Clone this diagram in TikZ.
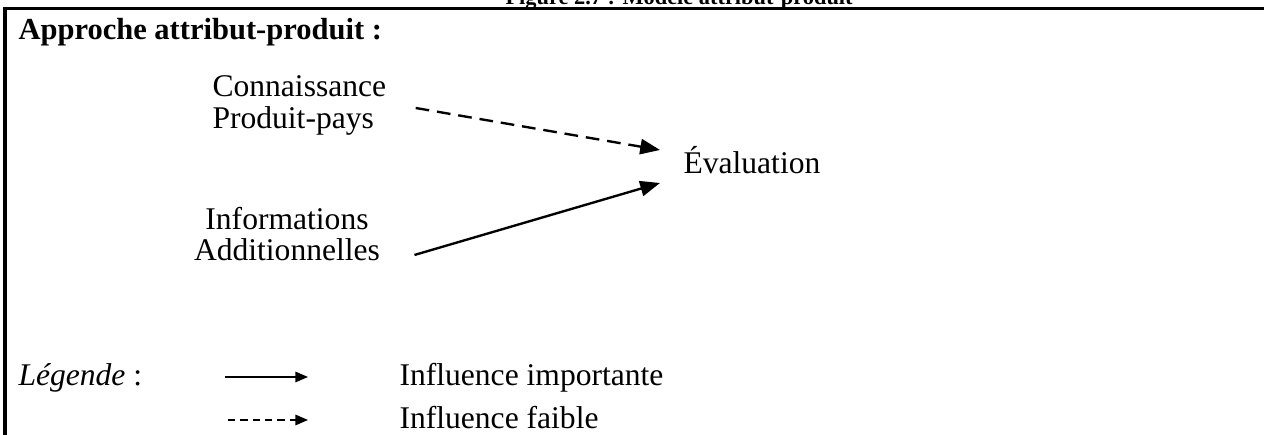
\documentclass[tikz,border=0pt]{standalone}
\usepackage{fontspec}
\setmainfont{Liberation Serif}
\usetikzlibrary{arrows.meta}

\begin{document}
\begin{tikzpicture}[
  x=0.38pt,
  y=-0.38pt,
  font=\fontsize{12}{12}\selectfont,
  txt/.style={inner sep=0pt, anchor=base west},
  headtxt/.style={txt, font=\fontsize{11.6}{14}\selectfont\bfseries},
  captxt/.style={txt, font=\fontsize{8.5}{10}\selectfont\bfseries},
  concept/.style={inner sep=0pt, anchor=north},
  border/.style={line width=1.25pt},
  strong/.style={-{Triangle[length=7.5pt,width=5.8pt]}, line width=0.9pt},
  weak/.style={strong, dash pattern=on 5.2pt off 3pt},
  keystrong/.style={-{Triangle[length=4.8pt,width=4pt]}, line width=0.55pt},
  keyweak/.style={keystrong, dash pattern=on 2.8pt off 1.9pt}
]
\useasboundingbox (0,0) rectangle (1264,435);

\node[captxt] (caption) at (505,5) {Figure 2.7 : Modèle attribut-produit};
\draw[border] (5,435) -- (5,8.5) -- (1264,8.5);

\node[headtxt] (heading) at (18,40) {Approche attribut-produit :};

\node[concept, anchor=north west, align=left] (knowledge) at (212,75.4) {Connaissance\\Produit-pays};
\node[concept, align=center] (extra) at (287,206.4) {Informations\\Additionnelles};
\node[txt] (evaluation) at (683,174) {Évaluation};

\draw[weak] ([shift={(29,32.6)}]knowledge.north east) -- ([shift={(-23,-24)}]evaluation.base west);
\draw[strong] ([shift={(34,-6.6)}]extra.south east) -- ([shift={(-23,9)}]evaluation.base west);

\node[txt] (legend) at (18,386) {{\itshape Légende} :};
\node[txt] (strongkey) at (399,386) {Influence importante};
\node[txt] (weakkey) at (399,429) {Influence faible};

\draw[keystrong] ([shift={(-174,-9)}]strongkey.base west) -- ([shift={(-91,-9)}]strongkey.base west);
\draw[keyweak] ([shift={(-171,-9)}]weakkey.base west) -- ([shift={(-91,-9)}]weakkey.base west);

\end{tikzpicture}
\end{document}
